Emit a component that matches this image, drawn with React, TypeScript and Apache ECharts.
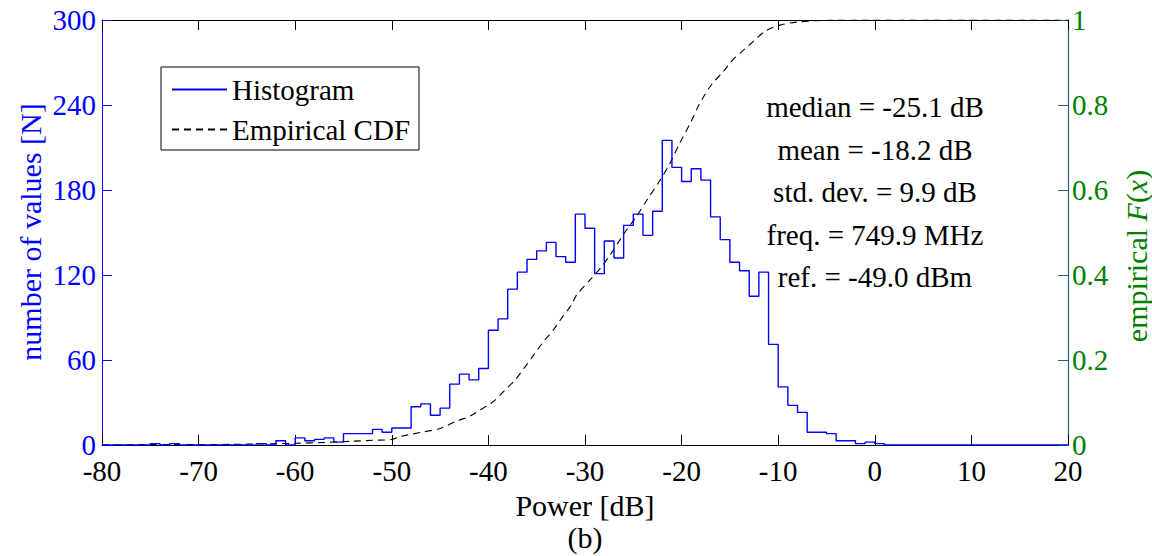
import React, { useEffect, useRef } from "react";
import * as echarts from "echarts";

// Histogram: 1 dB bins starting at -80 dB
const binStart = -80;
const binWidth = 1;
const histCounts = [
  0, 0, 0, 0, 0, // -80..-76
  1, 0, 1, // -75..-73
  0, 0, 0, 0, 0, 0, 0, 0, // -72..-65
  1, 0, 3, 0, // -64..-61
  5, 3, 4, 5, 2, // -60..-56
  8, 8, 8, 11, 9, // -55..-51
  12, 12, 27, 29, 21, 26, 43, 50, 46, 54, // -50..-41
  81, 89, 110, 122, 131, 137, 143, 133, 129, 163, // -40..-31
  153, 121, 144, 132, 155, 163, 148, 165, 215, 196, // -30..-21
  186, 195, 187, 161, 145, 129, 123, 105, 122, 71, // -20..-11
  41, 28, 23, 9, 9, 8, 3, 3, 1, 2, // -10..-1
  1, 0, 0, 0, 0, 0, 0, 0, 0, 0, // 0..9
  0, 0, 0, 0, 0, 0, 0, 0, 0, 0, // 10..19
];

// Empirical CDF: power [dB] and F(x)
const cdfX = [
  -80, -75, -70, -65, -60, -57, -54, -52, -50, -49.1, -46.7, -45, -43.3, -41.9,
  -40.9, -39.5, -38.3, -37.2, -36.2, -35.3, -34.3, -33.3, -32.5, -31.4, -30.9,
  -29.5, -28.4, -27.4, -26.6, -25.7, -24.7, -23.6, -22.2, -21.2, -20.2, -19.1,
  -18.3, -17.6, -16.8, -15.7, -14.7, -13.6, -12.6, -11.4, -9.8, -8.1, -6.4, -4, 0, 20,
];
const cdfY = [
  0, 0.001, 0.001, 0.002, 0.004, 0.006, 0.009, 0.011, 0.013, 0.02, 0.031, 0.039,
  0.056, 0.068, 0.082, 0.102, 0.129, 0.154, 0.184, 0.212, 0.243, 0.27, 0.296,
  0.33, 0.352, 0.388, 0.416, 0.447, 0.475, 0.506, 0.537, 0.576, 0.624, 0.663,
  0.71, 0.757, 0.796, 0.824, 0.851, 0.878, 0.906, 0.929, 0.949, 0.973, 0.988,
  0.995, 0.998, 1, 1, 1,
];

const statLines = [
  "median = -25.1 dB",
  "mean = -18.2 dB",
  "std. dev. = 9.9 dB",
  "freq. = 749.9 MHz",
  "ref. = -49.0 dBm",
];

const FONT = "Liberation Serif";
const BLUE = "#0000ff";
const GREEN = "#008000";

export default function App() {
  const ref = useRef<HTMLDivElement>(null);
  useEffect(() => {
    if (!ref.current) return;
    const chart = echarts.init(ref.current, null, { renderer: "svg" });

    const histData: number[][] = histCounts.map((c, i) => [binStart + i * binWidth, c]);
    histData.push([binStart + histCounts.length * binWidth, histCounts[histCounts.length - 1]]);
    const cdfData = cdfX.map((x, i) => [x, cdfY[i]]);

    const left = 102, right = 1068, top = 20, bottom = 445;

    chart.setOption({
      animation: false,
      backgroundColor: "#ffffff",
      textStyle: { fontFamily: FONT },
      grid: { left, right: 1152 - right, top, bottom: 556 - bottom, containLabel: false },
      legend: {
        orient: "vertical",
        left: 161,
        top: 67,
        backgroundColor: "#ffffff",
        borderColor: "#000000",
        borderWidth: 1,
        padding: [8, 9, 6, 10],
        itemGap: 11,
        itemWidth: 55,
        itemHeight: 14,
        itemStyle: { opacity: 0 },
        textStyle: { fontFamily: FONT, fontSize: 29, color: "#000", lineHeight: 29 },
        data: ["Histogram", "Empirical CDF"],
      },
      xAxis: [
        {
          type: "value",
          position: "bottom",
          min: -80,
          max: 20,
          interval: 10,
          axisLine: { show: true, onZero: false, lineStyle: { color: "#000", width: 1 } },
          axisTick: { show: true, inside: true, length: 10, lineStyle: { color: "#000" } },
          axisLabel: { color: "#000", fontSize: 29, fontFamily: FONT, margin: 11 },
          splitLine: { show: false },
        },
        {
          type: "value",
          position: "top",
          min: -80,
          max: 20,
          interval: 10,
          axisLine: { show: true, onZero: false, lineStyle: { color: "#000", width: 1 } },
          axisTick: { show: true, inside: true, length: 10, lineStyle: { color: "#000" } },
          axisLabel: { show: false },
          splitLine: { show: false },
        },
      ],
      yAxis: [
        {
          type: "value",
          position: "left",
          min: 0,
          max: 300,
          interval: 60,
          axisLine: { show: true, onZero: false, lineStyle: { color: BLUE, width: 1 } },
          axisTick: { show: true, inside: true, length: 10, lineStyle: { color: BLUE } },
          axisLabel: { color: BLUE, fontSize: 29, fontFamily: FONT, margin: 6 },
          splitLine: { show: false },
        },
        {
          type: "value",
          position: "right",
          min: 0,
          max: 1,
          interval: 0.2,
          axisLine: { show: true, onZero: false, lineStyle: { color: "#1f5f78", width: 1.2 } },
          axisTick: { show: true, inside: true, length: 10, lineStyle: { color: "#1f6a5a" } },
          axisLabel: {
            color: GREEN,
            fontSize: 29,
            fontFamily: FONT,
            margin: 4,
            formatter: (v: number) => String(+v.toFixed(1)),
          },
          splitLine: { show: false },
        },
      ],
      series: [
        {
          name: "Histogram",
          type: "line",
          xAxisIndex: 0,
          yAxisIndex: 0,
          step: "end",
          data: histData,
          showSymbol: false,
          symbol: "none",
          lineStyle: { color: BLUE, width: 1.4 },
          itemStyle: { color: BLUE },
          z: 3,
        },
        {
          name: "Empirical CDF",
          type: "line",
          xAxisIndex: 0,
          yAxisIndex: 1,
          data: cdfData,
          smooth: 0.3,
          showSymbol: false,
          symbol: "none",
          lineStyle: { color: "#000", width: 1.1, type: [7, 5] },
          itemStyle: { color: "#555" },
          z: 2,
        },
      ],
      graphic: [
        ...statLines.map((t, i) => ({
          type: "text",
          x: 875,
          y: 107 + i * 42.5,
          z: 10,
          style: {
            text: t,
            fill: "#000",
            font: `29px ${FONT}`,
            textAlign: "center",
            textVerticalAlign: "middle",
          },
        })),
        {
          type: "text",
          x: 585,
          y: 505,
          style: {
            text: "Power [dB]",
            fill: "#000",
            font: `30px ${FONT}`,
            textAlign: "center",
            textVerticalAlign: "middle",
          },
        },
        {
          type: "text",
          x: 585,
          y: 537,
          style: {
            text: "(b)",
            fill: "#000",
            font: `30px ${FONT}`,
            textAlign: "center",
            textVerticalAlign: "middle",
          },
        },
        {
          type: "text",
          x: 30,
          y: 232,
          rotation: Math.PI / 2,
          style: {
            text: "number of values [N]",
            fill: BLUE,
            font: `30px ${FONT}`,
            textAlign: "center",
            textVerticalAlign: "middle",
          },
        },
        {
          type: "text",
          x: 1136,
          y: 256,
          rotation: Math.PI / 2,
          style: {
            text: "{a|empirical }{i|F}{a|(}{i|x}{a|)}",
            textAlign: "center",
            textVerticalAlign: "middle",
            rich: {
              a: { fill: GREEN, fontFamily: FONT, fontSize: 30 },
              i: { fill: GREEN, fontFamily: FONT, fontSize: 30, fontStyle: "italic" },
            },
          },
        },
      ],
    });
    return () => chart.dispose();
  }, []);
  return (
    <div
      ref={ref}
      style={{ position: "fixed", left: 0, top: 0, width: 1152, height: 556, background: "#fff" }}
    />
  );
}
